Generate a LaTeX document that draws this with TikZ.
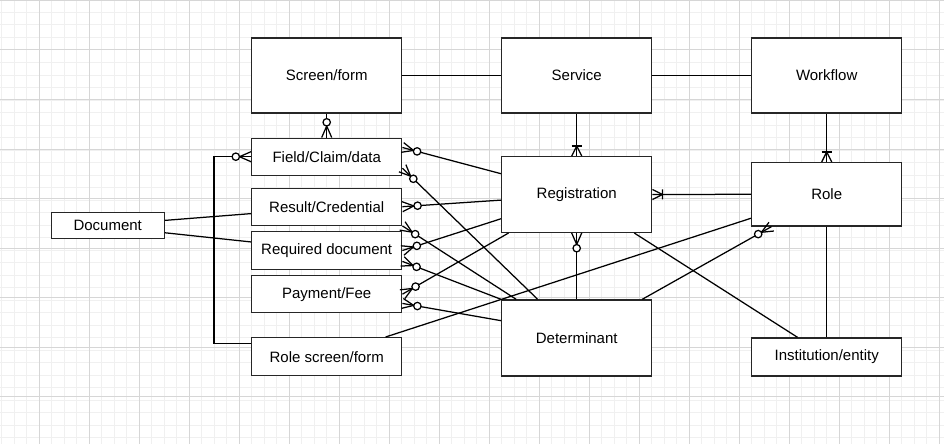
\documentclass[tikz,border=0pt]{standalone}
\usepackage{fontspec}
\setmainfont{Liberation Sans}
\usetikzlibrary{calc}
\tikzset{
 ent/.style={draw=black!85, line width=1.4pt, fill=white, inner sep=0pt, minimum width=150pt, font=\fontsize{15}{18}\selectfont},
 conn/.style={draw=black, line width=1.25pt},
 minorgrid/.style={draw=gray!12, line width=1pt},
 majorgrid/.style={draw=gray!32, line width=1pt},
}
\newcommand{\zmk}[2]{%
 \draw[conn] ($(#1)!5pt!90:(#2)$) -- ($(#1)!11.5pt!(#2)$) -- ($(#1)!5pt!-90:(#2)$);
 \draw[conn, fill=white] ($(#1)!15.2pt!(#2)$) circle (3.7pt);}
\newcommand{\omk}[2]{%
 \draw[conn] ($(#1)!5pt!90:(#2)$) -- ($(#1)!10pt!(#2)$) -- ($(#1)!5pt!-90:(#2)$);
 \draw[conn] ($(#1)!10pt!(#2)!5pt!90:(#2)$) -- ($(#1)!10pt!(#2)!5pt!-90:(#2)$);}
\begin{document}
\begin{tikzpicture}[x=1pt,y=-1pt]
\useasboundingbox (0,0) rectangle (944,444);
\fill[white] (0,0) rectangle (944,444);
% grid
\foreach \x in {1.8,14.3,...,944} \draw[minorgrid] (\x,0) -- (\x,444);
\foreach \y in {0,12.5,...,444} \draw[minorgrid] (0,\y) -- (944,\y);
\foreach \x in {39.3,89.3,...,944} \draw[majorgrid] (\x,0) -- (\x,444);
\foreach \y in {0.5,50,...,444} \draw[majorgrid] (0,\y) -- (944,\y);
% entities
\node[ent, minimum height=75pt] (screen) at (326.7,75.5) {Screen/form};
\node[ent, minimum height=75pt] (service) at (576.7,75.5) {Service};
\node[ent, minimum height=75pt] (workflow) at (826.7,75.5) {Workflow};
\node[ent, minimum height=37pt] (field) at (326.7,156.7) {Field/Claim/data};
\node[ent, minimum height=37pt] (result) at (326.7,206.7) {Result/Credential};
\node[ent, minimum height=37.5pt] (required) at (326.7,250.5) {Required document};
\node[ent, minimum height=37pt] (payment) at (326.7,294.2) {Payment/Fee};
\node[ent, minimum height=38pt] (rolescr) at (326.7,356.7) {Role screen/form};
\node[ent, minimum width=113pt, minimum height=25.5pt] (document) at (107.7,225.5) {Document};
\node[ent, minimum height=75.6pt] (reg) at (576.7,194.5) {Registration};
\node[ent, minimum height=63.3pt] (role) at (826.7,194.3) {Role};
\node[ent, minimum height=76pt] (det) at (576.7,338) {Determinant};
\node[ent, minimum height=38pt] (inst) at (826.7,357) {Institution/entity};
% attachment points
\coordinate (fA) at ($(field.north east)!.26!(field.south east)$);
\coordinate (fB) at ($(field.north east)!.8!(field.south east)$);
\coordinate (rA) at ($(reg.north west)!.23!(reg.south west)$);
\coordinate (rB) at ($(reg.north west)!.573!(reg.south west)$);
\coordinate (rC) at ($(reg.north west)!.815!(reg.south west)$);
\coordinate (rD) at ($(reg.south west)!.05!(reg.south east)$);
\coordinate (rE) at ($(reg.south west)!.88!(reg.south east)$);
\coordinate (dA) at ($(det.north west)!.242!(det.north east)$);
\coordinate (dB) at ($(det.north west)!.1!(det.north east)$);
\coordinate (dC) at ($(det.north west)!.933!(det.north east)$);
\coordinate (dD) at ($(det.north west)!.276!(det.south west)$);
\coordinate (qA) at ($(required.north east)!.78!(required.south east)$);
\coordinate (pA) at ($(payment.north east)!.74!(payment.south east)$);
\coordinate (roA) at ($(role.north west)!.87!(role.south west)$);
\coordinate (roB) at ($(role.south west)!.135!(role.south east)$);
\coordinate (inA) at ($(inst.north west)!.307!(inst.north east)$);
\coordinate (rsA) at ($(rolescr.north west)!.889!(rolescr.north east)$);
\coordinate (rsB) at ($(rolescr.north west)!.17!(rolescr.south west)$);
\coordinate (docA) at ($(document.north east)!.31!(document.south east)$);
\coordinate (docB) at ($(document.north east)!.77!(document.south east)$);
\coordinate (resL) at ($(result.north west)!.68!(result.south west)$);
\coordinate (reqL) at ($(required.north west)!.28!(required.south west)$);
\coordinate (bus) at (214,0);
\coordinate (busR) at (rsB -| bus);
\coordinate (busF) at (field.west -| bus);
% connectors
\draw[conn] (screen.east) -- (service.west);
\draw[conn] (service.east) -- (workflow.west);
\draw[conn] (screen.south) -- (field.north);
\draw[conn] (service.south) -- (reg.north);
\draw[conn] (workflow.south) -- (role.north);
\draw[conn] (role.west) -- (reg.east);
\draw[conn] (reg.south) -- (det.north);
\draw[conn] (role.south) -- (inst.north);
\draw[conn] (rE) -- (inA);
\draw[conn] (rsA) -- (roA);
\draw[conn] (dC) -- (roB);
\draw[conn] (fA) -- (rA);
\draw[conn] (fB) -- (dA);
\draw[conn] (result.east) -- (rB);
\draw[conn] (result.south east) -- (dB);
\draw[conn] (required.east) -- (rC);
\draw[conn] (qA) -- (det.north west);
\draw[conn] (payment.east) -- (rD);
\draw[conn] (pA) -- (dD);
\draw[conn] (docA) -- (resL);
\draw[conn] (docB) -- (reqL);
\draw[conn] (rsB) -- (busR) -- (busF) -- (field.west);
% markers
\zmk{field.north}{screen.south}
\omk{reg.north}{service.south}
\omk{role.north}{workflow.south}
\omk{reg.east}{role.west}
\zmk{reg.south}{det.north}
\zmk{roB}{dC}
\zmk{fA}{rA}
\zmk{fB}{dA}
\zmk{result.east}{rB}
\zmk{result.south east}{dB}
\zmk{required.east}{rC}
\zmk{qA}{det.north west}
\zmk{payment.east}{rD}
\zmk{pA}{dD}
\zmk{field.west}{busF}
\end{tikzpicture}
\end{document}
